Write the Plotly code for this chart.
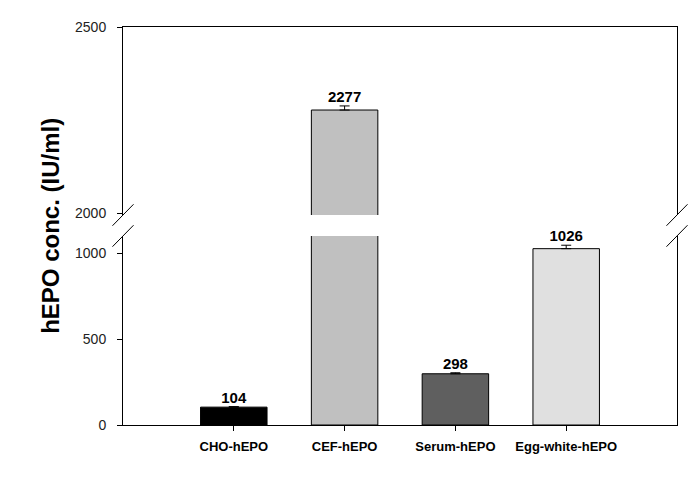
import numpy as np
import plotly.graph_objects as go

categories = ["CHO-hEPO", "CEF-hEPO", "Serum-hEPO", "Egg-white-hEPO"]
values = [104, 2277, 298, 1026]
errors = [3, 11, 6, 20]
bar_colors = ["#000000", "#c0c0c0", "#5f5f5f", "#e0e0e0"]
lower_range = [0, 1100]
upper_range = [1995, 2500]
lower_ticks = [0, 500, 1000]
upper_ticks = [2000, 2500]

FONT = "Arial, Liberation Sans, sans-serif"
x = list(range(len(categories)))
vals = np.array(values)
errs = np.array(errors)

fig = go.Figure()
for xa, ya in (("x", "y"), ("x2", "y2")):
    fig.add_trace(go.Bar(
        x=x, y=values, width=0.6, xaxis=xa, yaxis=ya,
        marker=dict(color=bar_colors, line=dict(color="black", width=1)),
        error_y=dict(type="data", array=errors, arrayminus=[0] * len(errors),
                     symmetric=False, color="black", thickness=1, width=5),
        showlegend=False, hoverinfo="skip"))

low_mask = vals < lower_range[1]
for mask, xa, ya in ((low_mask, "x", "y"), (~low_mask, "x2", "y2")):
    fig.add_trace(go.Scatter(
        x=np.array(x)[mask], y=(vals + errs)[mask], text=[str(v) for v in vals[mask]],
        mode="text", textposition="top center", xaxis=xa, yaxis=ya,
        textfont=dict(family=FONT, size=15, color="black", weight="bold"),
        cliponaxis=False, showlegend=False, hoverinfo="skip"))

lo_top = 0.475
up_bot = 0.5276
axis_common = dict(showline=True, linecolor="black", linewidth=1, showgrid=False,
                   zeroline=False)
fig.update_layout(
    width=700, height=497,
    margin=dict(l=115, r=31, t=19, b=80),
    plot_bgcolor="white", paper_bgcolor="white",
    font=dict(family=FONT, color="black"),
    xaxis=dict(domain=[0, 1], range=[-1, 4], anchor="y", tickvals=x, ticktext=categories,
               ticks="outside", ticklen=5, tickcolor="black", ticklabelstandoff=4,
               tickfont=dict(family=FONT, size=13, weight="bold", color="black"),
               **axis_common),
    xaxis2=dict(domain=[0, 1], range=[-1, 4], anchor="y2", matches="x", side="top",
                showticklabels=False, ticks="", **axis_common),
    yaxis=dict(domain=[0, lo_top], range=lower_range, tickvals=lower_ticks, anchor="x",
               ticks="outside", ticklen=5, tickcolor="black", mirror=True,
               ticklabelstandoff=8,
               tickfont=dict(family=FONT, size=14, color="#222222"), **axis_common),
    yaxis2=dict(domain=[up_bot, 1], range=upper_range, tickvals=upper_ticks, anchor="x2",
                ticks="outside", ticklen=5, tickcolor="black", mirror=True,
                ticklabelstandoff=8,
                tickfont=dict(family=FONT, size=14, color="#222222"), **axis_common),
)

fig.add_annotation(text="hEPO conc. (IU/ml)", textangle=-90, xref="paper", yref="paper",
                   x=-0.132, y=0.5, xanchor="center", yanchor="middle", showarrow=False,
                   font=dict(family=FONT, size=24, weight="bold", color="black"))

dx, dy = 0.019, 0.027
for xc in (0, 1):
    for yc in (up_bot, lo_top):
        fig.add_shape(type="line", xref="paper", yref="paper",
                      x0=xc - dx, y0=yc - dy, x1=xc + dx, y1=yc + dy,
                      line=dict(color="black", width=1))

fig.write_html("out.html")
